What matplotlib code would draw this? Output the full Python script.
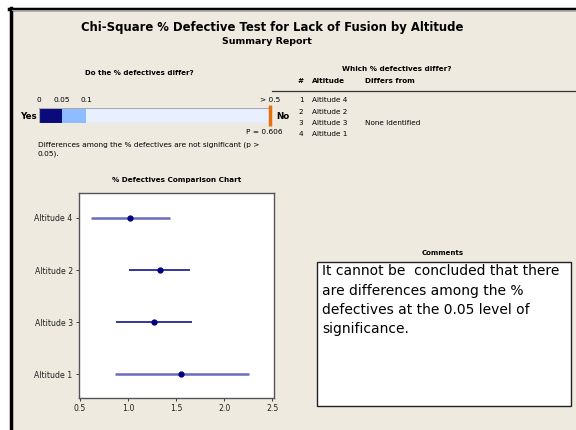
import numpy as np
import matplotlib.pyplot as plt
from matplotlib.patches import Rectangle

# ーーー data ーーー
groups = ['Altitude 1', 'Altitude 3', 'Altitude 2', 'Altitude 4']   # bottom -> top
centers = [1.55, 1.27, 1.33, 1.02]
lower = [0.86, 0.88, 1.01, 0.61]
upper = [2.26, 1.67, 1.65, 1.44]
faded = [True, False, False, True]

p_value = 0.606
p_breaks = [0, 0.05, 0.1, 0.5]
p_labels = ['0', '0.05', '0.1', '> 0.5']
bar_colors = ['#0a0a7a', '#8fbcff', '#e8f0ff']

table_rank = ['1', '2', '3', '4']
table_group = ['Altitude 4', 'Altitude 2', 'Altitude 3', 'Altitude 1']
table_differs = ['', '', 'None Identified', '']

comment = ("It cannot be  concluded that there\nare differences among the %\n"
           "defectives at the 0.05 level of\nsignificance.")

W, H = 576, 430
BG = '#eeeae0'
NAVY = '#000080'


def fx(x):
    return x / W


def fy(y):
    return 1 - y / H


fig = plt.figure(figsize=(5.76, 4.30), dpi=100)
fig.patch.set_facecolor('white')

# panel + border
fig.patches.append(Rectangle((fx(10), 0), 1 - fx(10), fy(9), transform=fig.transFigure,
                             facecolor=BG, edgecolor='none', zorder=-2))
fig.add_artist(plt.Line2D([fx(10.5), fx(10.5)], [0, fy(8)], color='black', lw=2.5))
fig.add_artist(plt.Line2D([fx(9), 1], [fy(8.5), fy(8.5)], color='black', lw=2.5))
fig.add_artist(plt.Line2D([fx(12), 1], [fy(10.3), fy(10.3)], color='#9a9a9a', lw=0.8))

# titles
fig.text(fx(272), fy(27), 'Chi-Square % Defective Test for Lack of Fusion by Altitude',
         ha='center', va='center', fontsize=8.4, fontweight='bold')
fig.text(fx(267), fy(42), 'Summary Report', ha='center', va='center', fontsize=6.8, fontweight='bold')

# ーーー p-value bar ーーー
fig.text(fx(139), fy(73), 'Do the % defectives differ?', ha='center', va='center',
         fontsize=5.0, fontweight='bold')
axp = fig.add_axes([fx(39), fy(123), fx(270) - fx(39), fy(108) - fy(123)])
# Minitab style non-linear scale for the p bar
disp = [0, 0.1, 0.205, 1.0]
scale = lambda p: np.interp(p, p_breaks, disp)
for i in range(3):
    axp.barh(0, scale(p_breaks[i + 1]) - scale(p_breaks[i]), left=scale(p_breaks[i]),
             height=1, color=bar_colors[i], edgecolor='none')
axp.set_xlim(0, 1)
axp.set_ylim(-0.5, 0.5)
axp.axis('off')
axp.add_patch(Rectangle((0, -0.5), 1, 1, fill=False, edgecolor='#a8a8b8', lw=0.8))
axp.plot([scale(min(p_value, 0.5))] * 2, [-0.72, 0.72], color='#e8700a', lw=2.5,
         clip_on=False, solid_capstyle='butt')
for p, lab in zip(p_breaks, p_labels):
    axp.text(scale(p), 1.05, lab, ha='center', va='center', fontsize=5.3, clip_on=False)
fig.text(fx(37), fy(116), 'Yes', ha='right', va='center', fontsize=6.3, fontweight='bold')
fig.text(fx(276), fy(116), 'No', ha='left', va='center', fontsize=6.3, fontweight='bold')
fig.text(fx(283), fy(132), 'P = %.3f' % p_value, ha='right', va='center', fontsize=5.3)
fig.text(fx(38), fy(149), 'Differences among the % defectives are not significant (p >\n0.05).',
         ha='left', va='center', fontsize=5.3, linespacing=1.45)

# ーーー comparison chart ーーー
fig.text(fx(177), fy(180), '% Defectives Comparison Chart', ha='center', va='center',
         fontsize=5.2, fontweight='bold')
ax = fig.add_axes([fx(79), fy(398), fx(274) - fx(79), fy(193) - fy(398)])
ax.set_facecolor('white')
ypos = np.arange(1, len(groups) + 1)
for y, c, lo, hi, f in zip(ypos, centers, lower, upper, faded):
    if f:
        ax.plot([lo, hi], [y, y], color='#3a3aa8', lw=1.8, alpha=0.75, solid_capstyle='butt')
    else:
        ax.plot([lo, hi], [y, y], color=NAVY, lw=1.1, solid_capstyle='butt')
ax.plot(centers, ypos, 'o', color=NAVY, ms=3.5)
ax.set_xlim(0.49, 2.52)
ax.set_ylim(0.54, 4.48)
ax.set_xticks([0.5, 1.0, 1.5, 2.0, 2.5])
ax.set_xticklabels(['0.5', '1.0', '1.5', '2.0', '2.5'])
ax.set_yticks(ypos)
ax.set_yticklabels(groups)
ax.tick_params(labelsize=5.6, length=2.5, width=0.6, pad=2, colors='#202020')
for s in ax.spines.values():
    s.set_color('#555555')
    s.set_linewidth(1.0)

# ーーー table ーーー
fig.text(fx(397), fy(69), 'Which % defectives differ?', ha='center', va='center',
         fontsize=5.2, fontweight='bold')
fig.text(fx(301), fy(81), '#', ha='center', va='center', fontsize=5.2, fontweight='bold')
fig.text(fx(312), fy(81), 'Altitude', ha='left', va='center', fontsize=5.2, fontweight='bold')
fig.text(fx(365), fy(81), 'Differs from', ha='left', va='center', fontsize=5.2, fontweight='bold')
fig.add_artist(plt.Line2D([fx(272), 1], [fy(90.5), fy(90.5)], color='#333333', lw=0.9))
row_y = [100, 112, 123, 134]
for yy, r, g, d in zip(row_y, table_rank, table_group, table_differs):
    fig.text(fx(301), fy(yy), r, ha='center', va='center', fontsize=5.2)
    fig.text(fx(312), fy(yy), g, ha='left', va='center', fontsize=5.2)
    fig.text(fx(365), fy(yy), d, ha='left', va='center', fontsize=5.2)

# ーーー comments ーーー
fig.text(fx(443), fy(253), 'Comments', ha='center', va='center', fontsize=5.0, fontweight='bold')
fig.patches.append(Rectangle((fx(317), fy(406)), fx(571) - fx(317), fy(262) - fy(406),
                             transform=fig.transFigure, facecolor='white',
                             edgecolor='#222222', lw=1.0, zorder=-1))
fig.text(fx(322), fy(264), comment, ha='left', va='top', fontsize=10.0, linespacing=1.5)

fig.savefig('out.png', dpi=100)
